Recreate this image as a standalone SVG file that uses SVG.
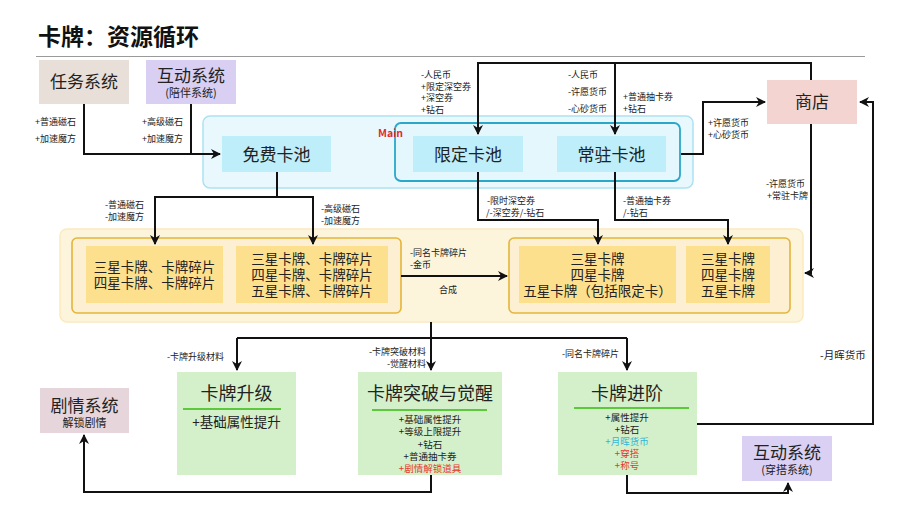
<svg xmlns="http://www.w3.org/2000/svg" width="900" height="506" viewBox="0 0 900 506">
<defs>
<marker id="ah" viewBox="0 0 10 10" refX="9" refY="5" markerWidth="5" markerHeight="5" orient="auto" markerUnits="strokeWidth">
<path d="M0,0 L10,5 L0,10 L3,5 z" fill="#111"/>
</marker>
<style>
text{font-family:"Noto Sans CJK SC","Noto Sans",sans-serif;fill:#222}
.big{font-size:17px;text-anchor:middle}
.sub{font-size:11px;text-anchor:middle}
.lbl{font-size:9px}
.mid{font-size:13.5px;text-anchor:middle}
.sm{font-size:9.5px;text-anchor:middle}
.conn path{fill:none;stroke:#111;stroke-width:2}
.arr{marker-end:url(#ah)}
.pool{fill:#bdeef9}
.cell{fill:#fde08e}
.green{fill:#d4f0cb}
.gl{stroke:#5cc83c;stroke-width:2}
</style>
</defs>
<rect width="900" height="506" fill="#fff"/>
<text x="38" y="45" style="font-size:23px;font-weight:bold;fill:#111">卡牌：资源循环</text>
<line x1="36" y1="56.5" x2="865" y2="56.5" stroke="#9a9a9a" stroke-width="1"/>

<g id="containers">
<rect x="203" y="116" width="490" height="72" rx="7" fill="#e9f8fd" stroke="#ade2f2" stroke-width="1.5"/>
<rect x="395" y="123" width="285" height="58" rx="6" fill="#e4f7fd" stroke="#2aa7c9" stroke-width="1.8"/>
<text x="378" y="137" style="font-size:10.5px;font-weight:bold;fill:#e32a2a">Main</text>
<rect x="60" y="229" width="743" height="93" rx="7" fill="#fdf4dc" stroke="#fbeac0" stroke-width="1.5"/>
<rect x="72" y="238" width="329" height="75" rx="5" fill="#fdf0d2" stroke="#e4b53a" stroke-width="1.6"/>
<rect x="509" y="238" width="281" height="75" rx="5" fill="#fdf0d2" stroke="#e4b53a" stroke-width="1.6"/>
</g>

<g id="renwu">
<rect x="39" y="60" width="90" height="44" fill="#e8dfd8"/>
<text x="84" y="88" class="big">任务系统</text>
</g>
<g id="hudong1">
<rect x="146" y="60" width="90" height="44" fill="#d8cff3"/>
<text x="191" y="82" class="big">互动系统</text>
<text x="191" y="97" class="sub">(陪伴系统)</text>
</g>
<g id="shop">
<rect x="767" y="80" width="90" height="44" fill="#f4d4d0"/>
<text x="812" y="108" class="big">商店</text>
</g>
<g id="free">
<rect x="222" y="136" width="109" height="36" class="pool"/>
<text x="276.5" y="161" class="big">免费卡池</text>
</g>
<g id="limited">
<rect x="413" y="136" width="110" height="36" class="pool"/>
<text x="468" y="161" class="big">限定卡池</text>
</g>
<g id="standard">
<rect x="557" y="136" width="109" height="36" class="pool"/>
<text x="611.5" y="161" class="big">常驻卡池</text>
</g>

<g id="cellA">
<rect x="86" y="246" width="137" height="57" class="cell"/>
<text x="154.5" y="272" class="mid">三星卡牌、卡牌碎片</text>
<text x="154.5" y="288" class="mid">四星卡牌、卡牌碎片</text>
</g>
<g id="cellB">
<rect x="236" y="246" width="152" height="57" class="cell"/>
<text x="312" y="264" class="mid">三星卡牌、卡牌碎片</text>
<text x="312" y="280" class="mid">四星卡牌、卡牌碎片</text>
<text x="312" y="296" class="mid">五星卡牌、卡牌碎片</text>
</g>
<g id="cellC">
<rect x="519" y="246" width="157" height="57" class="cell"/>
<text x="597.5" y="264" class="mid">三星卡牌</text>
<text x="597.5" y="280" class="mid">四星卡牌</text>
<text x="597.5" y="296" class="mid">五星卡牌（包括限定卡）</text>
</g>
<g id="cellD">
<rect x="686" y="246" width="84" height="57" class="cell"/>
<text x="728" y="264" class="mid">三星卡牌</text>
<text x="728" y="280" class="mid">四星卡牌</text>
<text x="728" y="296" class="mid">五星卡牌</text>
</g>

<g id="upgrade">
<rect x="177" y="372" width="119" height="103" class="green"/>
<text x="236.5" y="400" style="font-size:18px;text-anchor:middle">卡牌升级</text>
<line x1="183" y1="409" x2="281" y2="409" class="gl"/>
<text x="236.5" y="427" class="mid">+基础属性提升</text>
</g>
<g id="breakthrough">
<rect x="358" y="372" width="144" height="103" class="green"/>
<text x="430" y="400" style="font-size:18px;text-anchor:middle">卡牌突破与觉醒</text>
<line x1="372" y1="410" x2="487" y2="410" class="gl"/>
<text x="430" y="423" class="sm">+基础属性提升</text>
<text x="430" y="435.3" class="sm">+等级上限提升</text>
<text x="430" y="447.6" class="sm">+钻石</text>
<text x="430" y="459.9" class="sm">+普通抽卡券</text>
<text x="430" y="472" class="sm" style="fill:#e8352e">+剧情解锁道具</text>
</g>
<g id="advance">
<rect x="558" y="372" width="139" height="103" class="green"/>
<text x="627" y="400" style="font-size:18px;text-anchor:middle">卡牌进阶</text>
<line x1="574" y1="408" x2="689" y2="408" class="gl"/>
<text x="627" y="420.5" class="sm">+属性提升</text>
<text x="627" y="432.5" class="sm">+钻石</text>
<text x="627" y="444.5" class="sm" style="fill:#32b6d6">+月晖货币</text>
<text x="627" y="456.5" class="sm" style="fill:#e8352e">+穿搭</text>
<text x="627" y="468.5" class="sm" style="fill:#e8352e">+称号</text>
</g>
<g id="story">
<rect x="40" y="388" width="89" height="45" fill="#e6d6dc"/>
<text x="84.5" y="412" class="big">剧情系统</text>
<text x="84.5" y="427" class="sub">解锁剧情</text>
</g>
<g id="hudong2">
<rect x="742" y="436" width="90" height="45" fill="#d9d0f3"/>
<text x="787" y="459" class="big">互动系统</text>
<text x="787" y="474" class="sub">(穿搭系统)</text>
</g>

<g class="conn" id="connectors">
<path d="M84,104 V154 H220" class="arr"/>
<path d="M191,104 V154"/>
<path d="M811,80 V63 H478 V134" class="arr"/>
<path d="M615,63 V134" class="arr"/>
<path d="M681,154 H703 V102 H765" class="arr"/>
<path d="M811,124 V273 H805" class="arr"/>
<path d="M697,424 H873 V102 H860" class="arr"/>
<path d="M277,172 V197 H155 V244" class="arr"/>
<path d="M277,197 H313 V244" class="arr"/>
<path d="M478,172 V220 H598 V244" class="arr"/>
<path d="M615,172 V220 H728 V244" class="arr"/>
<path d="M401,276 H507" class="arr"/>
<path d="M431,322 V370" class="arr"/>
<path d="M237,338 H627"/>
<path d="M237,338 V370" class="arr"/>
<path d="M627,338 V370" class="arr"/>
<path d="M431,475 V492 H84 V435" class="arr"/>
<path d="M627,475 V493 H788 V483" class="arr"/>
</g>

<g id="labels">
<text x="35" y="125" class="lbl">+普通磁石</text>
<text x="35" y="142" class="lbl">+加速魔方</text>
<text x="142" y="125" class="lbl">+高级磁石</text>
<text x="142" y="142" class="lbl">+加速魔方</text>
<text x="421" y="78" class="lbl">-人民币</text>
<text x="421" y="89.5" class="lbl">+限定深空券</text>
<text x="421" y="101" class="lbl">+深空券</text>
<text x="421" y="112.5" class="lbl">+钻石</text>
<text x="568" y="78" class="lbl">-人民币</text>
<text x="568" y="95" class="lbl">-许愿货币</text>
<text x="568" y="112" class="lbl">-心砂货币</text>
<text x="623" y="100" class="lbl">+普通抽卡券</text>
<text x="623" y="111.5" class="lbl">+钻石</text>
<text x="708" y="126" class="lbl">+许愿货币</text>
<text x="708" y="138" class="lbl">+心砂货币</text>
<text x="766" y="187" class="lbl">-许愿货币</text>
<text x="767" y="199" class="lbl">+常驻卡牌</text>
<text x="105" y="208" class="lbl">-普通磁石</text>
<text x="105" y="220" class="lbl">-加速魔方</text>
<text x="321" y="212" class="lbl">-高级磁石</text>
<text x="321" y="224" class="lbl">-加速魔方</text>
<text x="487" y="204" class="lbl">-限时深空券</text>
<text x="486" y="215.5" class="lbl">/-深空券/-钻石</text>
<text x="623" y="204" class="lbl">-普通抽卡券</text>
<text x="623" y="215.5" class="lbl">/-钻石</text>
<text x="410" y="256" class="lbl">-同名卡牌碎片</text>
<text x="410" y="267.5" class="lbl">-金币</text>
<text x="439" y="293" class="lbl">合成</text>
<text x="167" y="360" class="lbl">-卡牌升级材料</text>
<text x="426" y="355" class="lbl" style="text-anchor:end">-卡牌突破材料</text>
<text x="426" y="366.5" class="lbl" style="text-anchor:end">-觉醒材料</text>
<text x="562" y="357" class="lbl">-同名卡牌碎片</text>
<text x="820" y="359" style="font-size:10.5px">-月晖货币</text>
</g>
</svg>
